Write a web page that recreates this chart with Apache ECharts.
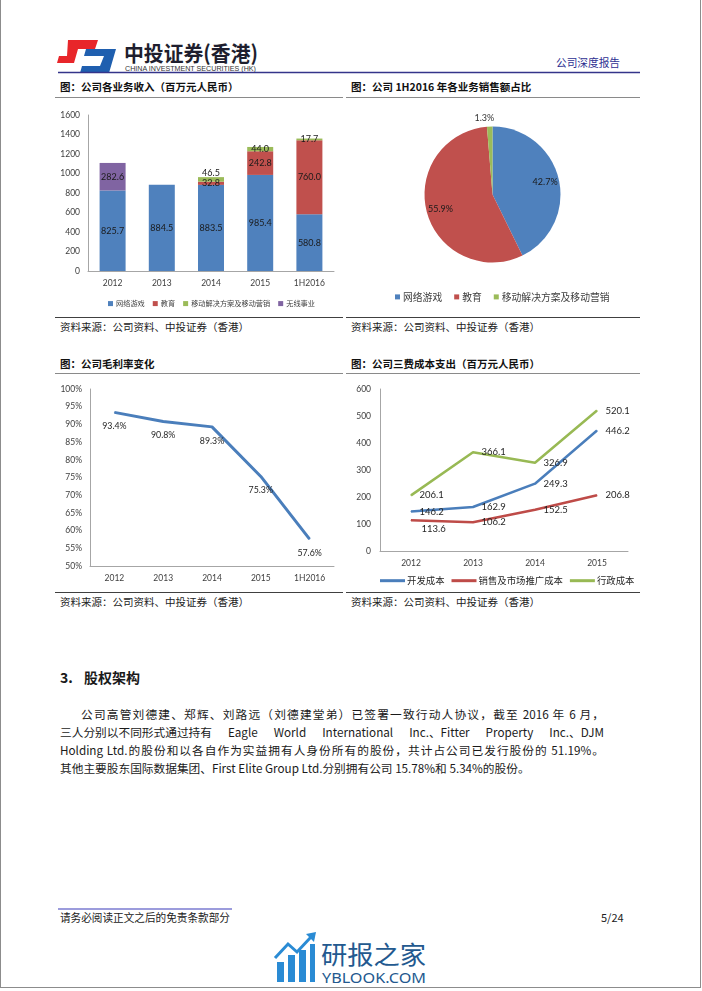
<!DOCTYPE html>
<html><head><meta charset="utf-8">
<script src="https://cdn.jsdelivr.net/npm/echarts@6/dist/echarts.min.js"></script>
<style>
html,body{margin:0;padding:0;background:#fff;}
#page{position:relative;width:702px;height:991px;overflow:hidden;background:#fff;font-family:"Noto Sans CJK SC",sans-serif;color:#1a1a1a;}
.abs{position:absolute;}
.ttl{position:absolute;font-size:10.5px;font-weight:bold;line-height:14px;white-space:nowrap;color:#111;}
.src{position:absolute;font-size:10.5px;line-height:14px;white-space:nowrap;color:#222;}
.hl{position:absolute;height:1px;}
.chart{position:absolute;}
.pl{position:absolute;left:60px;width:544px;font-size:11.7px;line-height:18px;height:18px;white-space:nowrap;color:#1a1a1a;}
.pl.j{display:flex;justify-content:space-between;}
.pl.aj{white-space:normal;text-align:justify;text-align-last:justify;}
</style></head>
<body>
<div id="page">
  <div class="abs" style="left:0;top:-2px;width:699px;height:988px;border:1px solid #8c8c8c;"></div>

  <svg class="abs" style="left:0;top:0" width="702" height="80">
    <polygon points="68,40 98,40 95,49 78,49 74,63 57,63 59,56 67,56" fill="#E8262A"/>
    <polygon points="86,49 116,49 109,73 80,73 82,66 100,66 104,56 84,56" fill="#1F5FAF"/>
    <text x="124" y="61" font-family="Noto Sans CJK SC" font-weight="bold" font-size="21" fill="#1e1e2e" textLength="134" lengthAdjust="spacingAndGlyphs">中投证券(香港)</text>
    <text x="125" y="70.5" font-family="Liberation Sans Narrow, Liberation Sans, sans-serif" font-size="7" fill="#333" textLength="131" lengthAdjust="spacingAndGlyphs">CHINA INVESTMENT SECURITIES (HK)</text>
    <text x="556" y="67" font-family="Noto Sans CJK SC" font-size="10.8" fill="#2E3192" textLength="64" lengthAdjust="spacingAndGlyphs">公司深度报告</text>
    <line x1="58" y1="72.5" x2="640" y2="72.5" stroke="#34348a" stroke-width="1.5"/>
  </svg>

  <div class="ttl" style="left:60px;top:80px;">图：公司各业务收入（百万元人民币）</div>
  <div class="ttl" style="left:351px;top:80px;">图：公司 1H2016 年各业务销售额占比</div>
  <div class="hl" style="left:55px;top:97px;width:288px;background:#8a8a8a;"></div>
  <div class="hl" style="left:346px;top:97px;width:294px;background:#8a8a8a;"></div>

  <div id="c1" class="chart" style="left:55px;top:100px;width:290px;height:215px;"></div>
  <div id="c2" class="chart" style="left:345px;top:100px;width:300px;height:215px;"></div>

  <div class="hl" style="left:55px;top:317px;width:288px;background:#404040;"></div>
  <div class="hl" style="left:346px;top:317px;width:294px;background:#404040;"></div>
  <div class="src" style="left:60px;top:320px;">资料来源：公司资料、中投证券（香港）</div>
  <div class="src" style="left:351px;top:320px;">资料来源：公司资料、中投证券（香港）</div>

  <div class="ttl" style="left:60px;top:357px;">图：公司毛利率变化</div>
  <div class="ttl" style="left:351px;top:357px;">图：公司三费成本支出（百万元人民币）</div>
  <div class="hl" style="left:55px;top:373px;width:288px;background:#8a8a8a;"></div>
  <div class="hl" style="left:346px;top:373px;width:294px;background:#8a8a8a;"></div>

  <div id="c3" class="chart" style="left:55px;top:376px;width:290px;height:215px;"></div>
  <div id="c4" class="chart" style="left:345px;top:376px;width:300px;height:215px;"></div>

  <div class="hl" style="left:55px;top:592px;width:288px;background:#404040;"></div>
  <div class="hl" style="left:346px;top:592px;width:294px;background:#404040;"></div>
  <div class="src" style="left:60px;top:595px;">资料来源：公司资料、中投证券（香港）</div>
  <div class="src" style="left:351px;top:595px;">资料来源：公司资料、中投证券（香港）</div>

  <div class="abs" style="left:60px;top:668px;font-size:14px;font-weight:bold;line-height:18px;">3.</div>
  <div class="abs" style="left:84px;top:668px;font-size:14px;font-weight:bold;line-height:18px;">股权架构</div>

  <div class="pl aj" style="top:705px;left:81px;width:523px;">公司高管刘德建、郑辉、刘路远（刘德建堂弟）已签署一致行动人协议，截至 2016 年 6 月，</div>
  <div class="pl j" style="top:723px;">三人分别以不同形式通过持有 Eagle World International Inc.、Fitter Property Inc.、DJM</div>
  <div class="pl aj" style="top:741px;">Holding Ltd.的股份和以各自作为实益拥有人身份所有的股份，共计占公司已发行股份的 51.19%。</div>
  <div class="pl" style="top:759px;">其他主要股东国际数据集团、First Elite Group Ltd.分别拥有公司 15.78%和 5.34%的股份。</div>

  <svg class="abs" style="left:0;top:900px" width="702" height="91">
    <line x1="58" y1="9" x2="232" y2="9" stroke="#7b7bd0" stroke-width="1.5"/>
    <text x="60" y="22" font-family="Noto Sans CJK SC" font-size="11" fill="#222" textLength="170" lengthAdjust="spacingAndGlyphs">请务必阅读正文之后的免责条款部分</text>
    <text x="601" y="22" font-family="Noto Sans CJK SC" font-size="11" fill="#222">5/24</text>
    <g fill="#2a8bd4">
      <rect x="277" y="62" width="7" height="20"/>
      <rect x="288" y="55" width="7" height="27"/>
      <rect x="299" y="50" width="7" height="32"/>
      <rect x="310" y="44" width="5" height="38"/>
    </g>
    <polyline points="275,58 288,44 297,52 311,37" fill="none" stroke="#2a8bd4" stroke-width="3"/>
    <polygon points="306,34 316,32 314,42" fill="#2a8bd4"/>
    <text x="321" y="64" font-family="Noto Sans CJK SC" font-size="25" fill="#23598f" textLength="105" lengthAdjust="spacingAndGlyphs">研报之家</text>
    <text x="322" y="83" font-family="Noto Sans, sans-serif" font-size="15" fill="#23598f" textLength="104" lengthAdjust="spacingAndGlyphs">YBLOOK.COM</text>
  </svg>
</div>

<script>
// justify line 2 by widening only the word gaps
document.querySelectorAll('.pl.j').forEach(el => {
  const parts = el.textContent.split(' ');
  el.textContent = '';
  parts.forEach(t => { const s = document.createElement('span'); s.textContent = t; el.appendChild(s); });
});

// ---------- data ----------
const revCats = ['2012', '2013', '2014', '2015', '1H2016'];
const revNames = ['网络游戏', '教育', '移动解决方案及移动营销', '无线事业'];
const revGames = [825.7, 884.5, 883.5, 985.4, 580.8];
const revEdu = [null, null, 32.8, 242.8, 760.0];
const revMobile = [null, null, 46.5, 44.0, 17.7];
const revWireless = [282.6, null, null, null, null];

const pieNames = ['网络游戏', '教育', '移动解决方案及移动营销'];
const pieShares = [42.7, 55.9, 1.3];

const gmCats = ['2012', '2013', '2014', '2015', '1H2016'];
const gmValues = [93.4, 90.8, 89.3, 75.3, 57.6];

const costCats = ['2012', '2013', '2014', '2015'];
const costNames = ['开发成本', '销售及市场推广成本', '行政成本'];
const costDev = [146.2, 162.9, 249.3, 446.2];
const costSales = [113.6, 106.2, 152.5, 206.8];
const costAdmin = [206.1, 366.1, 326.9, 520.1];

// ---------- styles ----------
const FONT = 'Lato, "Noto Sans CJK SC", sans-serif';
const CJK = '"Noto Sans CJK SC", sans-serif';
const BLUE = '#4F81BD', RED = '#C0504D', GREEN = '#9BBB59', PURPLE = '#8064A2';
const AX = '#A6A6A6', TXT = '#404040';

function fmt1(p) { return (p.value == null || isNaN(p.value)) ? '' : Number(p.value).toFixed(1); }
const plain = v => String(v);

// ---------- chart 1 : stacked bars ----------
const c1 = echarts.init(document.getElementById('c1'));
const barLabel = { show: true, position: 'inside', fontSize: 9, color: '#1a1a1a', fontFamily: FONT, formatter: fmt1 };
c1.setOption({
  animation: false,
  textStyle: { fontFamily: FONT },
  grid: { left: 33, right: 11, top: 15, bottom: 44 },
  legend: {
    data: revNames, left: 48, top: 195, icon: 'rect', itemWidth: 5, itemHeight: 5, itemGap: 8,
    textStyle: { fontSize: 7.2, color: TXT, fontFamily: CJK, padding: [0, 0, 0, -2] }
  },
  xAxis: {
    type: 'category', data: revCats,
    axisTick: { show: false }, axisLine: { lineStyle: { color: AX } },
    axisLabel: { fontSize: 8.5, color: TXT, margin: 8 }
  },
  yAxis: {
    type: 'value', min: 0, max: 1600, interval: 200,
    axisLine: { show: true, lineStyle: { color: AX } }, axisTick: { show: false },
    splitLine: { show: false }, axisLabel: { fontSize: 8.5, color: TXT, margin: 8, formatter: plain }
  },
  series: [
    { name: revNames[0], type: 'bar', stack: 'a', barWidth: 26, data: revGames, itemStyle: { color: BLUE }, label: barLabel },
    { name: revNames[1], type: 'bar', stack: 'a', barWidth: 26, data: revEdu, itemStyle: { color: RED }, label: barLabel },
    { name: revNames[2], type: 'bar', stack: 'a', barWidth: 26, itemStyle: { color: GREEN }, label: barLabel,
      data: revMobile.map((v, i) => i === 2 ? { value: v, label: { position: 'top', distance: 0 } } : v) },
    { name: revNames[3], type: 'bar', stack: 'a', barWidth: 26, data: revWireless, itemStyle: { color: PURPLE }, label: barLabel }
  ]
});

// ---------- chart 2 : pie ----------
const c2 = echarts.init(document.getElementById('c2'));
c2.setOption({
  animation: false,
  textStyle: { fontFamily: FONT },
  color: [BLUE, RED, GREEN],
  legend: {
    data: pieNames, left: 45, top: 187, icon: 'rect', itemWidth: 5, itemHeight: 5, itemGap: 12,
    textStyle: { fontSize: 9.8, color: TXT, fontFamily: CJK, padding: [0, 0, 0, -2] }
  },
  series: [
    {
      type: 'pie', radius: 68, center: [147.5, 94.5], startAngle: 90, clockwise: true,
      label: { show: false }, labelLine: { show: false },
      data: pieNames.map((n, i) => ({ name: n, value: pieShares[i] }))
    },
    {
      type: 'pie', radius: [34, 68], center: [147.5, 94.5], startAngle: 90, clockwise: true,
      silent: true, emphasis: { disabled: true }, avoidLabelOverlap: false,
      itemStyle: { color: 'rgba(0,0,0,0)' },
      label: { show: true, position: 'inside', fontSize: 9, color: '#1a1a1a', fontFamily: FONT,
               formatter: p => p.value.toFixed(1) + '%' },
      labelLine: { show: false },
      labelLayout: p => p.dataIndex === 2 ? { align: 'center' } : {},
      data: pieShares.map((v, i) => i === 2
        ? { value: v, label: { position: 'outside', color: '#333' }, labelLine: { show: false, length: 8, length2: 0 } }
        : { value: v })
    }
  ]
});

// ---------- chart 3 : gross margin ----------
const c3 = echarts.init(document.getElementById('c3'));
c3.setOption({
  animation: false,
  textStyle: { fontFamily: FONT },
  grid: { left: 35, right: 11, top: 13, bottom: 25 },
  xAxis: {
    type: 'category', data: gmCats,
    axisTick: { show: false }, axisLine: { lineStyle: { color: AX } },
    axisLabel: { fontSize: 8.5, color: TXT, margin: 8 }
  },
  yAxis: {
    type: 'value', min: 50, max: 100, interval: 5,
    axisLine: { show: true, lineStyle: { color: AX } }, axisTick: { show: false },
    splitLine: { show: false }, axisLabel: { fontSize: 8.5, color: TXT, margin: 8, formatter: '{value}%' }
  },
  series: [{
    type: 'line', data: gmValues, symbol: 'circle', symbolSize: 1, showSymbol: true,
    lineStyle: { width: 3, color: '#4A7EBB' }, itemStyle: { color: '#4A7EBB' },
    label: { show: true, position: 'bottom', distance: 9, fontSize: 8.8, color: '#262626',
             formatter: p => p.value.toFixed(1) + '%' }
  }]
});

// ---------- chart 4 : three costs ----------
const c4 = echarts.init(document.getElementById('c4'));
const lineLabel = { show: true, position: 'right', distance: 8, fontSize: 9.5, color: '#262626', formatter: fmt1 };
c4.setOption({
  animation: false,
  textStyle: { fontFamily: FONT },
  grid: { left: 35, right: 17, top: 13, bottom: 40 },
  legend: {
    data: costNames, left: 30, top: 195, icon: 'rect', itemWidth: 25, itemHeight: 3, itemGap: 7,
    textStyle: { fontSize: 9.4, color: '#262626', fontFamily: CJK, padding: [0, 0, 0, -3] }
  },
  xAxis: {
    type: 'category', data: costCats,
    axisTick: { show: false }, axisLine: { lineStyle: { color: AX } },
    axisLabel: { fontSize: 8.5, color: TXT, margin: 8 }
  },
  yAxis: {
    type: 'value', min: 0, max: 600, interval: 100,
    axisLine: { show: true, lineStyle: { color: AX } }, axisTick: { show: false },
    splitLine: { show: false }, axisLabel: { fontSize: 8.5, color: TXT, margin: 9, formatter: plain }
  },
  series: [
    { name: costNames[0], type: 'line', data: costDev, symbol: 'circle', symbolSize: 1,
      lineStyle: { width: 2.5, color: '#4A7EBB' }, itemStyle: { color: '#4A7EBB' }, label: lineLabel },
    { name: costNames[1], type: 'line', symbol: 'circle', symbolSize: 1,
      data: costSales.map((v, i) => i === 0 ? { value: v, label: { offset: [2, 9] } } : v),
      lineStyle: { width: 2.5, color: '#BE4B48' }, itemStyle: { color: '#BE4B48' }, label: lineLabel },
    { name: costNames[2], type: 'line', data: costAdmin, symbol: 'circle', symbolSize: 1,
      lineStyle: { width: 2.5, color: '#98B954' }, itemStyle: { color: '#98B954' }, label: lineLabel }
  ]
});
</script>
</body></html>
